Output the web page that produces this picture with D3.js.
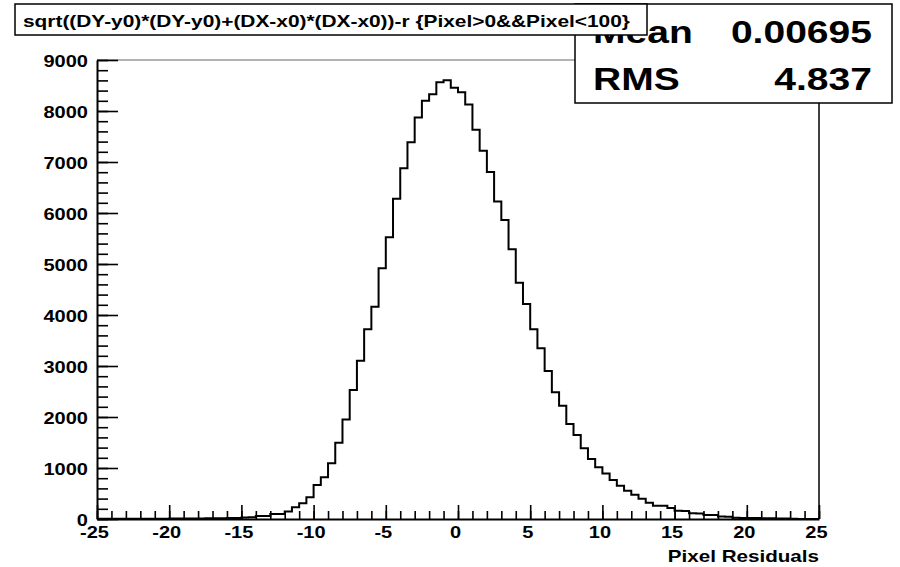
<!DOCTYPE html>
<html>
<head>
    <meta charset="utf-8">
    <title>Pixel Residuals</title>
    <script src="https://d3js.org/d3.v7.min.js"></script>
    <style>
        body {
            margin: 0;
            background: #fff;
            overflow: hidden;
        }
        svg text {
            font-family: "Liberation Sans", Arial, sans-serif;
            font-weight: bold;
            fill: #000;
        }
        .axis path, .axis line {
            stroke: #000;
        }
    </style>
</head>
<body>
    <svg width="900" height="567"></svg>

    <script>
    // histogram: 100 bins of 0.5 from -25 to 25
    const binLow = -25;
    const binWidth = 0.5;
    const counts = [
        3, 3, 4, 4, 5, 5, 6, 6, 7, 7,
        8, 9, 10, 11, 12, 14, 15, 17, 19, 22,
        30, 35, 60, 60, 100, 100, 145, 230, 310, 425,
        667, 820, 1092, 1496, 1950, 2529, 3104, 3719, 4163, 4915,
        5525, 6280, 6878, 7386, 7872, 8203, 8330, 8562, 8605, 8455,
        8368, 8128, 7630, 7222, 6806, 6225, 5863, 5288, 4634, 4216,
        3719, 3346, 2902, 2484, 2222, 1863, 1647, 1386, 1176, 1013,
        890, 765, 650, 552, 477, 395, 320, 262, 258, 215,
        160, 158, 112, 108, 80, 76, 50, 46, 25, 22,
        20, 18, 15, 13, 10, 9, 7, 0, 0, 0
    ];

    const titleText = "sqrt((DY-y0)*(DY-y0)+(DX-x0)*(DX-x0))-r {Pixel>0&&Pixel<100}";
    const statNames = ["Mean", "RMS"];
    const statValues = ["0.00695", "4.837"];
    const xTitle = "Pixel Residuals";

    const xMajor = d3.range(-25, 26, 5);
    const xMinor = d3.range(-25, 26, 1);
    const yMajor = d3.range(0, 9001, 1000);
    const yMinor = d3.range(0, 9001, 200);

    const svg = d3.select("svg");
    const padL = 97, padR = 819, padT = 60, padB = 519;
    const stretch = 1.25; // text in the original is drawn wide
    const plain = d => String(d); // no thousands commas, ascii minus

    const x = d3.scaleLinear().domain([-25, 25]).range([padL, padR]);
    const y = d3.scaleLinear().domain([0, 9000]).range([padB, padT]);

    // frame top and right
    svg.append("line")
        .attr("x1", padL).attr("x2", padR)
        .attr("y1", padT).attr("y2", padT)
        .attr("stroke", "#666").attr("stroke-width", 1.2);
    svg.append("line")
        .attr("x1", padR).attr("x2", padR)
        .attr("y1", padT).attr("y2", padB)
        .attr("stroke", "#000").attr("stroke-width", 1.5);

    // histogram outline
    const pts = [];
    counts.forEach((c, i) => {
        const x0 = binLow + i * binWidth;
        pts.push([x0, c], [x0 + binWidth, c]);
    });
    svg.append("path")
        .attr("d", d3.line().x(d => x(d[0])).y(d => y(d[1]))(pts))
        .attr("fill", "none")
        .attr("stroke", "#000")
        .attr("stroke-width", 2);

    // y axis: minor then major
    svg.append("g").attr("class", "axis")
        .attr("transform", `translate(${padL},0)`)
        .call(d3.axisLeft(y).tickValues(yMinor).tickFormat("").tickSizeInner(-11).tickSizeOuter(0))
        .call(g => g.selectAll("line").attr("stroke-width", 1.6))
        .call(g => g.select(".domain").attr("stroke-width", 2));
    svg.append("g").attr("class", "axis")
        .attr("transform", `translate(${padL},0)`)
        .call(d3.axisLeft(y).tickValues(yMajor).tickFormat(plain).tickSizeInner(-21).tickSizeOuter(0))
        .call(g => g.select(".domain").remove())
        .call(g => g.selectAll("line").attr("stroke-width", 1.6))
        .call(g => g.selectAll("text")
            .attr("x", null).attr("dy", null)
            .attr("font-size", 16)
            .attr("text-anchor", "end")
            .attr("transform", `translate(-9,6) scale(${stretch},1)`));

    // x axis: minor then major, ticks pointing up
    svg.append("g").attr("class", "axis")
        .attr("transform", `translate(0,${padB})`)
        .call(d3.axisBottom(x).tickValues(xMinor).tickFormat("").tickSizeInner(-8).tickSizeOuter(0))
        .call(g => g.selectAll("line").attr("stroke-width", 1.6))
        .call(g => g.select(".domain").attr("stroke-width", 2));
    svg.append("g").attr("class", "axis")
        .attr("transform", `translate(0,${padB})`)
        .call(d3.axisBottom(x).tickValues(xMajor).tickFormat(plain).tickSizeInner(-14).tickSizeOuter(0))
        .call(g => g.select(".domain").remove())
        .call(g => g.selectAll("line").attr("stroke-width", 1.6))
        .call(g => g.selectAll("text")
            .attr("y", null).attr("dy", null)
            .attr("font-size", 16)
            .attr("text-anchor", "middle")
            .attr("transform", `translate(-3,19) scale(${stretch},1)`));

    // x axis title
    svg.append("text")
        .attr("font-size", 16.5)
        .attr("text-anchor", "end")
        .attr("transform", `translate(${padR},562) scale(${stretch},1)`)
        .text(xTitle);

    // stats box (drawn before the title box, which covers it)
    svg.append("rect")
        .attr("x", 575).attr("y", 4)
        .attr("width", 317).attr("height", 99)
        .attr("fill", "#fff").attr("stroke", "#000").attr("stroke-width", 1.5);
    const statBase = [43, 90];
    statNames.forEach((n, i) => {
        svg.append("text")
            .attr("font-size", 32)
            .attr("transform", `translate(593,${statBase[i]}) scale(1.22,1)`)
            .text(n);
        svg.append("text")
            .attr("font-size", 32)
            .attr("text-anchor", "end")
            .attr("transform", `translate(872,${statBase[i]}) scale(1.22,1)`)
            .text(statValues[i]);
    });

    // title box
    svg.append("rect")
        .attr("x", 15).attr("y", 4)
        .attr("width", 632).attr("height", 31)
        .attr("fill", "#fff").attr("stroke", "#000").attr("stroke-width", 1.5);
    svg.append("text")
        .attr("font-size", 16.7)
        .attr("transform", `translate(23,27) scale(${stretch},1)`)
        .text(titleText);
    </script>
</body>
</html>
